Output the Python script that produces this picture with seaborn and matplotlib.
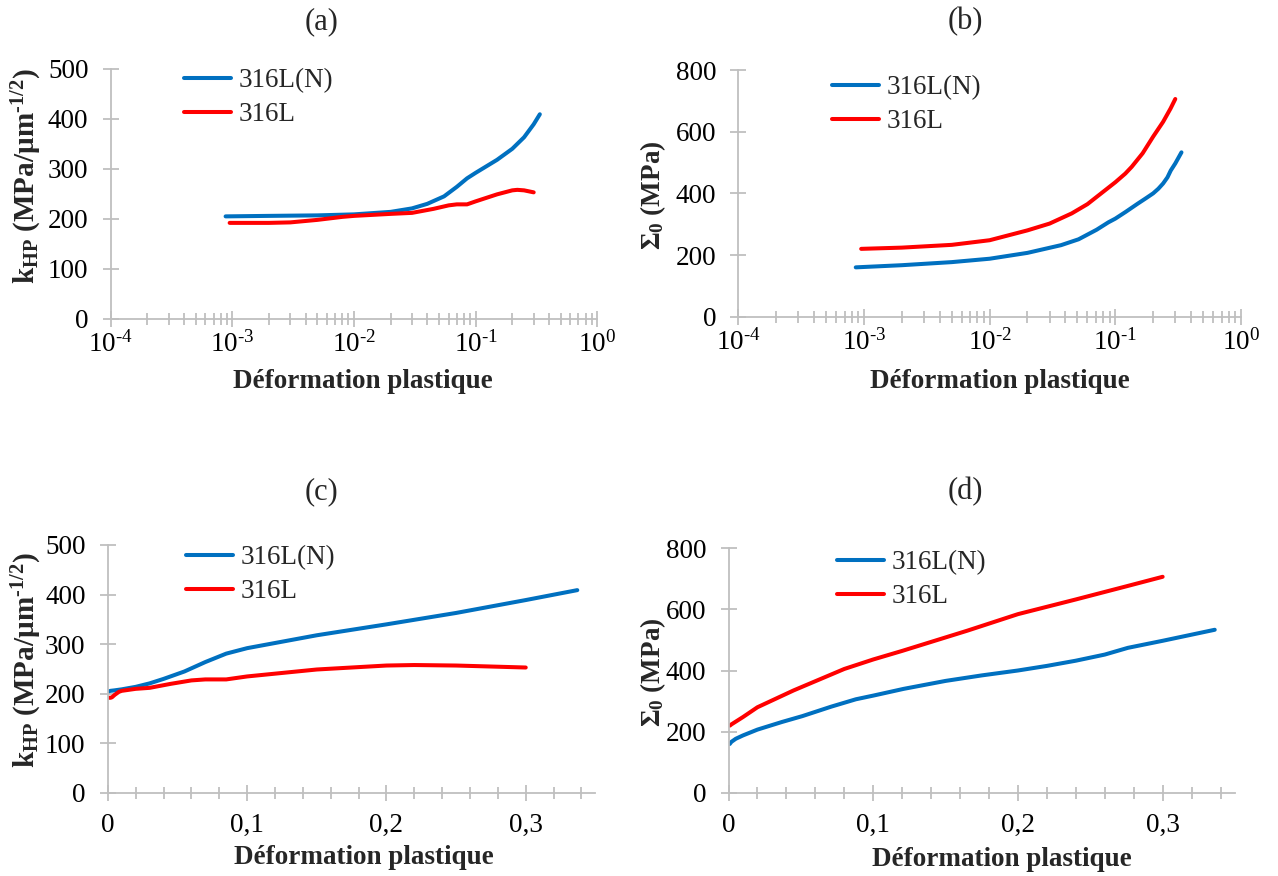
import matplotlib
matplotlib.use("Agg")
import matplotlib.pyplot as plt
from matplotlib.ticker import FixedLocator, FixedFormatter, NullFormatter
import seaborn as sns

# k_HP (MPa/um^-1/2) against plastic strain
khp_strain_ln = [0.00088, 0.002, 0.005, 0.01, 0.02, 0.03, 0.04, 0.055, 0.07, 0.085,
                 0.1, 0.15, 0.2, 0.25, 0.3, 0.337]
khp_316ln = [205, 206, 207, 209, 214, 221, 230, 245, 264, 281, 292, 318, 340, 363, 389, 409]
khp_strain_l = [0.00095, 0.002, 0.003, 0.005, 0.008, 0.01, 0.02, 0.03, 0.045, 0.06, 0.07,
                0.085, 0.1, 0.15, 0.2, 0.22, 0.25, 0.3]
khp_316l = [192, 192, 193, 198, 204, 206, 210, 212, 220, 227, 229, 229, 235, 249, 257, 258,
            257, 253]

# Sigma_0 (MPa) against plastic strain
sig_strain_ln = [0.00086, 0.002, 0.005, 0.01, 0.02, 0.037, 0.051, 0.071, 0.088, 0.1, 0.121,
                 0.15, 0.175, 0.2, 0.22, 0.24, 0.26, 0.276, 0.3, 0.336]
sig_316ln = [160, 167, 177, 188, 207, 232, 251, 282, 306, 318, 340, 366, 384, 400, 415, 432,
             452, 474, 497, 533]
sig_strain_l = [0.00095, 0.002, 0.005, 0.01, 0.02, 0.03, 0.045, 0.06, 0.08, 0.1, 0.12, 0.135,
                0.165, 0.2, 0.24, 0.275, 0.3]
sig_316l = [220, 224, 233, 248, 280, 302, 335, 365, 405, 436, 464, 486, 530, 584, 632, 675,
            706]

series_labels = ["316L(N)", "316L"]
series_colors = ["#0070C0", "#FF0000"]
panel_titles = ["(a)", "(b)", "(c)", "(d)"]
x_label = "Déformation plastique"
y_label_khp = "$\\mathbf{k_{HP}}$ (MPa/µm$\\mathregular{^{\u20101/2}}$)"
y_label_sig = r"$\mathbf{\Sigma_0}$ (MPa)"
log_ticks = [1e-4, 1e-3, 1e-2, 1e-1, 1]
log_tick_labels = ["$\\mathregular{10^{\u20104}}$", "$\\mathregular{10^{\u20103}}$",
                   "$\\mathregular{10^{\u20102}}$", "$\\mathregular{10^{\u20101}}$",
                   "$\\mathregular{10^{0}}$"]
lin_ticks = [0, 0.1, 0.2, 0.3]
lin_tick_labels = ["0", "0,1", "0,2", "0,3"]
khp_ticks = [0, 100, 200, 300, 400, 500]
sig_ticks = [0, 200, 400, 600, 800]

sns.set_style("white")
plt.rcParams["font.family"] = ["Liberation Serif", "DejaVu Serif"]
plt.rcParams["mathtext.fontset"] = "custom"
plt.rcParams["mathtext.rm"] = "Liberation Serif"
plt.rcParams["mathtext.it"] = "Liberation Serif:italic"
plt.rcParams["mathtext.bf"] = "Liberation Serif:bold"

W, H = 1278, 876
GRAY = "#BFBFBF"
FS = 19.5
fig = plt.figure(figsize=(W / 100, H / 100), dpi=100)


def px_axes(left, right, top, bottom):
    return fig.add_axes([left / W, 1 - bottom / H, (right - left) / W, (bottom - top) / H])


def draw_panel(ax, xs, ys, log, yticks, legend_xy):
    for x, y, lab, col in zip(xs, ys, series_labels, series_colors):
        sns.lineplot(x=x, y=y, ax=ax, color=col, lw=2.9, label=lab,
                     sort=False, estimator=None)
    for side in ["top", "right"]:
        ax.spines[side].set_visible(False)
    for side in ["left", "bottom"]:
        ax.spines[side].set_color(GRAY)
        ax.spines[side].set_linewidth(1.3)
    ax.set_ylim(yticks[0], yticks[-1])
    ax.yaxis.set_major_locator(FixedLocator(yticks))
    if log:
        ax.set_xscale("log")
        ax.set_xlim(1e-4, 1)
        ax.xaxis.set_major_locator(FixedLocator(log_ticks))
        ax.xaxis.set_major_formatter(FixedFormatter(log_tick_labels))
        minors = [m * 10.0 ** e for e in range(-4, 0) for m in range(2, 10)]
        xpad = 3.5
    else:
        ax.set_xlim(0, 0.35)
        ax.xaxis.set_major_locator(FixedLocator(lin_ticks))
        ax.xaxis.set_major_formatter(FixedFormatter(lin_tick_labels))
        minors = [0.02, 0.04, 0.06, 0.08, 0.12, 0.14, 0.16, 0.18, 0.22, 0.24, 0.26, 0.28,
                  0.32, 0.34]
        xpad = 9
    ax.xaxis.set_minor_locator(FixedLocator(minors))
    ax.xaxis.set_minor_formatter(NullFormatter())
    ax.yaxis.set_minor_locator(FixedLocator([]))
    ax.tick_params(which="both", bottom=True, left=True, top=False, right=False)
    ax.tick_params(which="major", direction="inout", length=11, width=1.3, color=GRAY,
                   labelsize=FS, labelcolor="black")
    ax.tick_params(axis="x", which="minor", direction="inout", length=8.5, width=1.3,
                   color=GRAY)
    ax.tick_params(axis="y", which="major", pad=10.5)
    ax.tick_params(axis="x", which="major", pad=xpad)
    ax.set_xlabel("")
    ax.set_ylabel("")
    ax.grid(False)
    lx, ly = legend_xy
    ax.legend(loc="upper left", bbox_to_anchor=(lx / W, 1 - ly / H),
              bbox_transform=fig.transFigure, frameon=False, fontsize=FS,
              handlelength=1.75, handletextpad=0.25, labelspacing=0.35,
              borderpad=0, borderaxespad=0)


ax_a = px_axes(110.7, 597.3, 68.7, 319)
ax_b = px_axes(738.3, 1241, 70, 316.7)
ax_c = px_axes(107.8, 595.4, 545, 793)
ax_d = px_axes(728.5, 1235, 548, 793)

draw_panel(ax_a, [khp_strain_ln, khp_strain_l], [khp_316ln, khp_316l], True, khp_ticks,
           (184, 68))
draw_panel(ax_b, [sig_strain_ln, sig_strain_l], [sig_316ln, sig_316l], True, sig_ticks,
           (832, 75))
draw_panel(ax_c, [khp_strain_ln, khp_strain_l], [khp_316ln, khp_316l], False, khp_ticks,
           (186, 545))
draw_panel(ax_d, [sig_strain_ln, sig_strain_l], [sig_316ln, sig_316l], False, sig_ticks,
           (837, 550))

# panel titles, axis titles (Excel-like placement)
for t, (x, y) in zip(panel_titles, [(322, 22), (965, 22), (322, 492), (965, 492)]):
    fig.text(x / W, 1 - y / H, t, ha="center", va="center", fontsize=22)
for x, y in [(363, 381), (1000, 381), (364, 857), (1002, 859)]:
    fig.text(x / W, 1 - y / H, x_label, ha="center", va="center", fontsize=FS,
             fontweight="bold")
for lab, fs, (x, y) in zip([y_label_khp, y_label_sig, y_label_khp, y_label_sig],
                           [21, 19.5, 21, 19.5],
                           [(27, 176), (653, 195), (27, 660), (653, 672)]):
    fig.text(x / W, 1 - y / H, lab, ha="center", va="center", rotation=90, fontsize=fs,
             fontweight="bold")

fig.savefig("out.png", dpi=100)
